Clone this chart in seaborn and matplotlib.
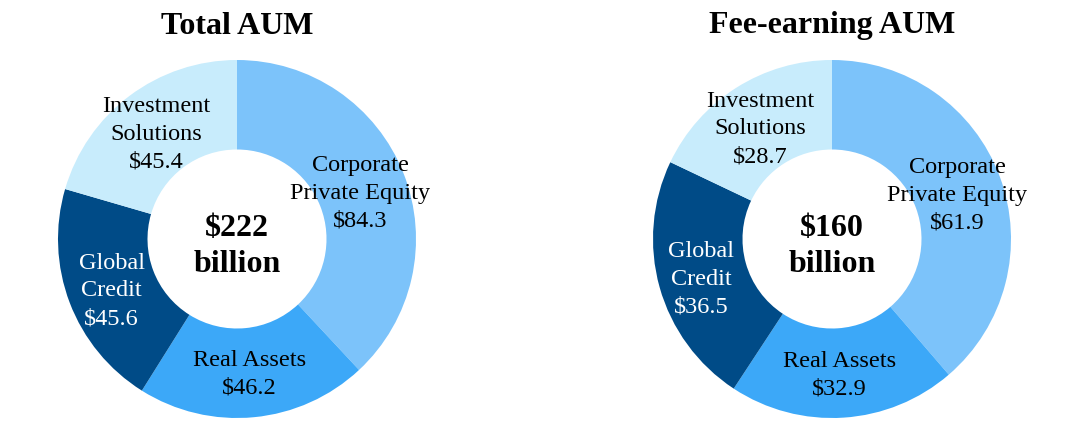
import matplotlib
matplotlib.use("Agg")
import matplotlib.pyplot as plt
import seaborn as sns

sns.set_theme(style="white")
plt.rcParams['font.family'] = ['Liberation Serif', 'DejaVu Serif']

# ---- data ----
segments = ["Corporate\nPrivate Equity", "Real Assets", "Global\nCredit", "Investment\nSolutions"]
total_aum = [84.3, 46.2, 45.6, 45.4]
fee_aum = [61.9, 32.9, 36.5, 28.7]
titles = ["Total AUM", "Fee-earning AUM"]
center_labels = ["$222\nbillion", "$160\nbillion"]

# ---- style / layout ----
colors = ["#7CC3FA", "#3CA8F8", "#004B87", "#C8ECFC"]
text_colors = ["black", "black", "white", "black"]
label_pos = [
    [(0.69, 0.255), (0.07, -0.755), (-0.70, -0.29), (-0.45, 0.585)],
    [(0.70, 0.245), (0.04, -0.76), (-0.73, -0.225), (-0.40, 0.615)],
]
W, H = 1075, 434
R = 179
centers = [(237, 239), (832, 239)]

fig = plt.figure(figsize=(W / 100, H / 100), dpi=100)
fig.patch.set_facecolor("white")

for i, vals in enumerate([total_aum, fee_aum]):
    cx, cy = centers[i]
    ax = fig.add_axes([(cx - R) / W, (H - cy - R) / H, 2 * R / W, 2 * R / H])
    ax.pie(vals, colors=colors, startangle=90, counterclock=False, radius=1.0,
           wedgeprops=dict(width=0.5, edgecolor="none", linewidth=0))
    ax.set_xlim(-1, 1)
    ax.set_ylim(-1, 1)
    ax.set_aspect("equal")
    ax.axis("off")
    for seg, v, (px, py), tc in zip(segments, vals, label_pos[i], text_colors):
        ax.text(px, py, f"{seg}\n${v:.1f}", ha="center", va="center",
                fontsize=17.5, color=tc, linespacing=1.42)
    ax.text(0, -0.04, center_labels[i], ha="center", va="center", fontsize=23,
            fontweight="bold", color="black", linespacing=1.33)
    fig.text(cx / W, 1 - 26 / H, titles[i], ha="center", va="center",
             fontsize=23, fontweight="bold", color="black")

fig.savefig("out.png", dpi=100, facecolor="white")
